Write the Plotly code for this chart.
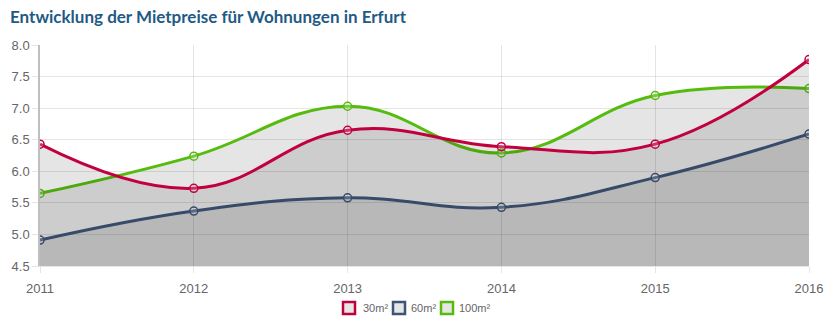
import plotly.graph_objects as go

years = [2011, 2012, 2013, 2014, 2015, 2016]
series_names = ["30m²", "60m²", "100m²"]
values_30 = [6.43, 5.73, 6.65, 6.39, 6.43, 7.77]
values_60 = [4.91, 5.37, 5.58, 5.43, 5.90, 6.59]
values_100 = [5.65, 6.24, 7.03, 6.29, 7.20, 7.31]
colors = ["#c1003e", "#3e5375", "#55bc0e"]
y_ticks = [4.5, 5.0, 5.5, 6.0, 6.5, 7.0, 7.5, 8.0]
title_text = "Entwicklung der Mietpreise für Wohnungen in Erfurt"

W, H = 838, 324
ML, MR, MT, MB = 40, 29, 45, 58
PW, PH = W - ML - MR, H - MT - MB

def px(x):
    return (x - ML) / PW

def py(y):
    return (H - MB - y) / PH

fig = go.Figure()
series = [(series_names[2], values_100, colors[2]),
          (series_names[1], values_60, colors[1]),
          (series_names[0], values_30, colors[0])]
for name, vals, col in series:
    fig.add_trace(go.Scatter(
        x=years, y=vals, name=name, mode="lines+markers",
        line=dict(color=col, width=3, shape="spline", smoothing=1.2),
        marker=dict(symbol="circle", size=8, color="rgba(255,255,255,0.2)",
                    line=dict(color=col, width=1.5)),
        fill="tozeroy", fillcolor="rgba(0,0,0,0.1)",
        showlegend=False, hoverinfo="x+y",
    ))

# manual legend (squares + labels)
sq = [(343, 355), (393, 405), (441, 453)]
tx = [361, 409, 457]
shapes = []
annotations = []
for i, name in enumerate(series_names):
    x0, x1 = sq[i]
    shapes.append(dict(type="rect", xref="paper", yref="paper",
                       x0=px(x0), x1=px(x1), y0=py(314), y1=py(302),
                       fillcolor="#e6e6e6", line=dict(color=colors[i], width=2.5)))
    annotations.append(dict(text=name, xref="paper", yref="paper",
                            x=px(tx[i]), y=py(308), xanchor="left", yanchor="middle",
                            showarrow=False,
                            font=dict(family="Liberation Sans, Arial", size=11, color="#666")))

fig.update_layout(
    width=W, height=H,
    margin=dict(l=ML, r=MR, t=MT, b=MB),
    paper_bgcolor="white", plot_bgcolor="white",
    title=dict(text="<b>" + title_text + "</b>", x=10 / W, xref="container", xanchor="left",
               y=1 - 17 / H, yref="container", yanchor="middle",
               font=dict(family="Lato", size=17, color="#1f5a85")),
    shapes=shapes, annotations=annotations,
    showlegend=False,
    xaxis=dict(range=[2011, 2016], tickvals=years, ticktext=[str(y) for y in years],
               showgrid=True, gridcolor="rgba(0,0,0,0.1)", gridwidth=1,
               ticks="outside", ticklen=6, tickcolor="rgba(0,0,0,0.1)",
               showline=True, linecolor="rgba(0,0,0,0.1)", linewidth=1,
               zeroline=False, ticklabelstandoff=4,
               tickfont=dict(family="Liberation Sans, Arial", size=13, color="#666")),
    yaxis=dict(range=[4.5, 8.0], tickvals=y_ticks, ticktext=[f"{v:.1f}" for v in y_ticks],
               showgrid=True, gridcolor="rgba(0,0,0,0.1)", gridwidth=1,
               ticks="outside", ticklen=6, tickcolor="rgba(0,0,0,0.1)",
               showline=True, linecolor="rgba(0,0,0,0.25)", linewidth=1.5,
               zeroline=False,
               tickfont=dict(family="Liberation Sans, Arial", size=13, color="#666")),
)

fig.write_html("out.html")
